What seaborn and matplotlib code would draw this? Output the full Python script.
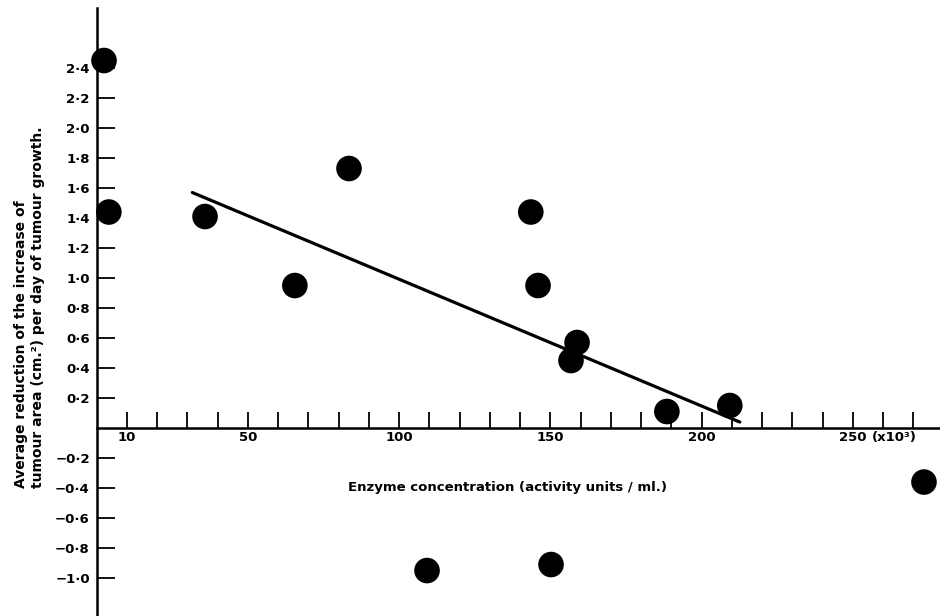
import pandas as pd
import matplotlib
matplotlib.use("Agg")
import matplotlib.pyplot as plt
import seaborn as sns

# Data (x in 10^3 activity units / ml)
conc = [2.4, 4.0, 35.8, 65.5, 83.4, 143.5, 145.9, 158.8, 156.8, 188.5, 209.3, 109.2, 150.2, 273.5]
reduction = [2.45, 1.44, 1.41, 0.95, 1.73, 1.44, 0.95, 0.57, 0.45, 0.11, 0.15, -0.95, -0.91, -0.36]

# fitted line end points
fit_x = [31.6, 212.6]
fit_y = [1.57, 0.04]

x_ticks = list(range(10, 280, 10))
x_tick_labels = {10: "10", 50: "50", 100: "100", 150: "150", 200: "200", 250: "250"}
y_ticks = [-1.0, -0.8, -0.6, -0.4, -0.2, 0.2, 0.4, 0.6, 0.8, 1.0, 1.2, 1.4, 1.6, 1.8, 2.0, 2.2, 2.4]
y_tick_labels = ["\u22121·0", "\u22120·8", "\u22120·6", "\u22120·4", "\u22120·2",
                 "0·2", "0·4", "0·6", "0·8", "1·0", "1·2", "1·4", "1·6", "1·8", "2·0", "2·2", "2·4"]

sns.set_theme(style="white")
plt.rcParams['font.family'] = ['DejaVu Sans']
plt.rcParams['font.weight'] = 'bold'
plt.rcParams['text.color'] = 'black'

df = pd.DataFrame({"conc": conc, "reduction": reduction})
fit = pd.DataFrame({"x": fit_x, "y": fit_y})

fig = plt.figure(figsize=(9.4, 6.16), dpi=100)
ax = fig.add_axes([96.75 / 940, 0.0, 843.25 / 940, 608 / 616])

sns.lineplot(data=fit, x="x", y="y", ax=ax, color="black", linewidth=2.3)
sns.scatterplot(data=df, x="conc", y="reduction", ax=ax, color="black",
                s=340, edgecolor="none", clip_on=False, zorder=3)

ax.set_xlim(0, 278.8)
ax.set_ylim(-1.253, 2.8)

# axes drawn as crossing lines, old-journal style
for side in ["top", "right"]:
    ax.spines[side].set_visible(False)
ax.spines["bottom"].set_position(("data", 0))
for side in ["left", "bottom"]:
    ax.spines[side].set_color("black")
    ax.spines[side].set_linewidth(1.8)

ax.set_xticks(x_ticks)
ax.set_xticklabels([x_tick_labels.get(t, "") for t in x_ticks])
ax.set_yticks(y_ticks)
ax.set_yticklabels(y_tick_labels)
ax.tick_params(axis="x", bottom=True, direction="in", length=11.5, width=1.3, pad=2,
               labelsize=9.5, colors="black")
ax.tick_params(axis="y", left=True, direction="in", length=13, width=1.3, pad=5,
               labelsize=9.5, colors="black")
ax.set_xlabel("")
ax.set_ylabel("")

ax.annotate("(x10³)", xy=(250, 0), xytext=(14, -2), textcoords="offset points",
            ha="left", va="top", fontsize=9.5, fontweight="bold", color="black")

fig.text(508 / 940, 1 - 487 / 616, "Enzyme concentration (activity units / ml.)",
         ha="center", va="center", fontsize=9.5, fontweight="bold", color="black")
fig.text(29.5 / 940, 1 - 488 / 616,
         "Average reduction of the increase of\ntumour area (cm.²) per day of tumour growth.",
         rotation=90, ha="center", va="bottom", multialignment="left",
         fontsize=10, fontweight="bold", linespacing=1.3, color="black")

fig.savefig("out.png", dpi=100)
plt.close(fig)
